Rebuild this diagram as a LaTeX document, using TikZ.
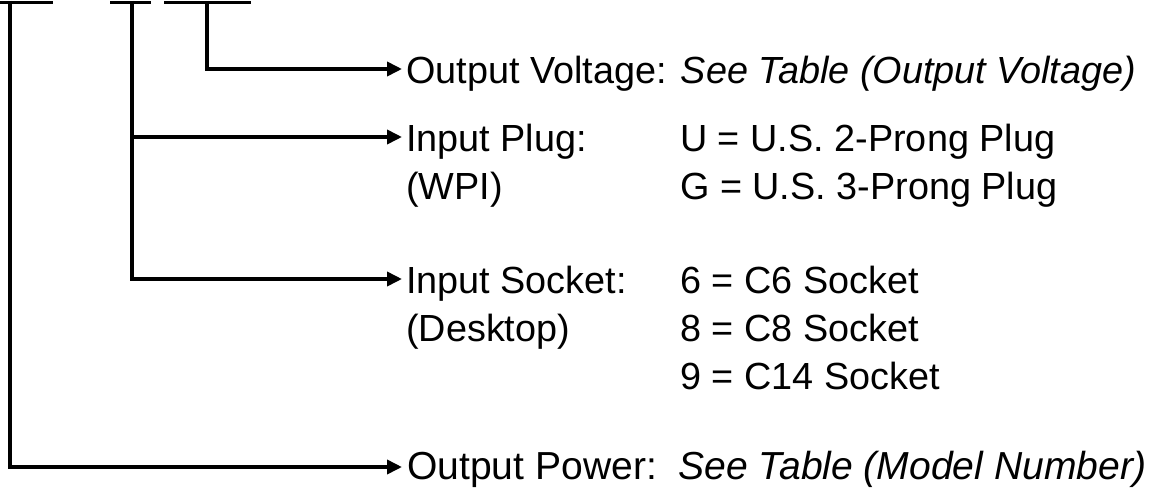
\documentclass[tikz,border=0pt]{standalone}
\usepackage{fontspec}
\setmainfont{Liberation Sans}
\usetikzlibrary{arrows.meta}
\begin{document}
\begin{tikzpicture}[x=1pt,y=-1pt,
  wire/.style={line width=3.6pt,line cap=butt,line join=miter},
  arr/.style={wire,-{Triangle[length=15pt,width=14pt]}},
  lbl/.style={anchor=base west,inner sep=0pt,font=\fontsize{37.8pt}{47pt}\selectfont}]
\useasboundingbox (0,0) rectangle (1155,487);
% top bars
\coordinate (b1l) at (0,2.7);   \coordinate (b1r) at (53,2.7);
\coordinate (b2l) at (110,2.7); \coordinate (b2r) at (151,2.7);
\coordinate (b3l) at (164,2.7); \coordinate (b3r) at (251,2.7);
\draw[wire] (b1l) -- (b1r);
\draw[wire] (b2l) -- (b2r);
\draw[wire] (b3l) -- (b3r);
\coordinate (v1) at (10,1);
\coordinate (v2) at (132,1);
\coordinate (v3) at (207,1);
% arrow ends
\coordinate (tV) at (402,69);
\coordinate (tP) at (402,137);
\coordinate (tS) at (402,279);
\coordinate (tW) at (402,467);
\draw[arr] (v3) |- (tV);
\draw[arr] (v2) |- (tS);
\draw[arr] (v2 |- tP) -- (tP);
\draw[arr] (v1) |- (tW);
% labels
\node[lbl] (volt) at (406,83) {Output Voltage: \textit{See Table (Output Voltage)}};
\node[lbl] (plug) at (406,151) {Input Plug:};
\node[lbl] (wpi) at (406,199) {(WPI)};
\node[lbl] (u) at (680,151) {U = U.S. 2-Prong Plug};
\node[lbl] (g) at (680,199) {G = U.S. 3-Prong Plug};
\node[lbl] (sock) at (406,293) {Input Socket:};
\node[lbl] (desk) at (406,341) {(Desktop)};
\node[lbl] (c6) at (680,293) {6 = C6 Socket};
\node[lbl] (c8) at (680,341) {8 = C8 Socket};
\node[lbl] (c14) at (680,389) {9 = C14 Socket};
\node[lbl] (pow) at (407,479) {\resizebox{739pt}{!}{Output Power:\ \ \textit{See Table (Model Number)}}};
\end{tikzpicture}
\end{document}
